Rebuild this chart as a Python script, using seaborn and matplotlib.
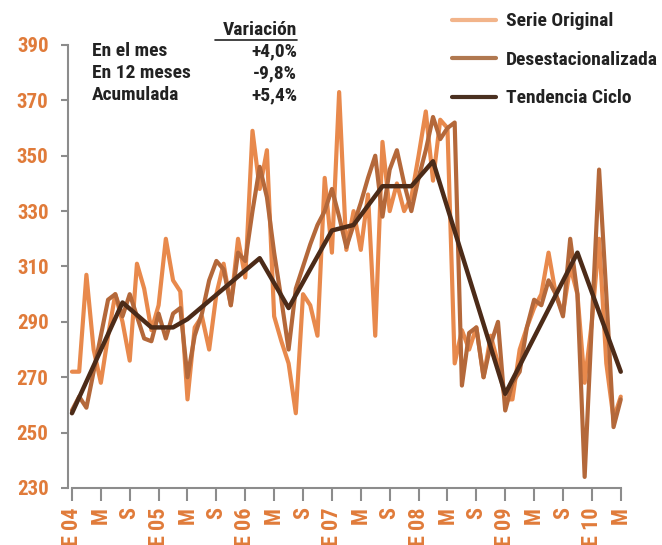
import numpy as np
import pandas as pd
import seaborn as sns
import matplotlib.pyplot as plt
from matplotlib import font_manager
from matplotlib.lines import Line2D

# meses desde enero 2004 hasta mayo 2010
meses = np.arange(77)
serie_original = [272, 272, 307, 280, 268, 285, 300, 290, 276, 311,
                  302, 287, 296, 320, 305, 301, 262, 288, 292, 280,
                  300, 311, 296, 320, 306, 359, 338, 352, 292, 283,
                  275, 257, 300, 296, 285, 342, 315, 373, 316, 330,
                  316, 336, 285, 355, 330, 340, 330, 335, 350, 366,
                  341, 363, 360, 275, 287, 280, 288, 270, 285, 275,
                  262, 262, 280, 288, 295, 300, 315, 300, 293, 310,
                  300, 268, 290, 320, 275, 255, 263]
desestacionalizada = [258, 263, 259, 272, 285, 298, 300, 292, 300, 292,
                      284, 283, 293, 284, 293, 295, 270, 285, 293, 305,
                      312, 309, 296, 315, 312, 330, 346, 335, 315, 298,
                      280, 302, 310, 318, 325, 330, 338, 328, 317, 325,
                      333, 342, 350, 328, 345, 352, 340, 330, 342, 352,
                      364, 356, 360, 362, 267, 286, 288, 270, 282, 290,
                      258, 268, 272, 288, 298, 296, 305, 300, 292, 320,
                      300, 234, 290, 345, 300, 252, 262]
tendencia_mes = [0, 7, 11, 14, 16, 26, 30, 36, 39, 43, 47, 50, 60, 70, 76]
tendencia = [257, 297, 288, 288, 291, 313, 295, 323, 325, 339, 339, 348, 264, 315, 272]

tick_pos = list(range(0, 77, 4))
tick_labels = ['E 04', 'M', 'S', 'E 05', 'M', 'S', 'E 06', 'M', 'S', 'E 07',
               'M', 'S', 'E 08', 'M', 'S', 'E 09', 'M', 'S', 'E 10', 'M']

variacion = ['En el mes', 'En 12 meses', 'Acumulada']
variacion_val = ['+4,0%', '-9,8%', '+5,4%']

c_orig = '#E8894C'
c_des = '#B4683A'
c_tend = '#4C2B18'
naranja = '#E07B3A'
gris = '#8C8C8C'
texto = '#222222'

sns.set_theme(style='white')

# fuente estrecha en negrita: se usa el archivo Bold directamente
ruta = None
for cand in ['Roboto Condensed', 'Liberation Sans Narrow', 'Barlow Semi Condensed',
             'Asap Condensed', 'Barlow Condensed']:
    for f in font_manager.fontManager.ttflist:
        base = f.fname.split('/')[-1]
        if f.name == cand and base.endswith('-Bold.ttf'):
            ruta = f.fname
            break
    if ruta:
        break


def fp(size):
    if ruta:
        return font_manager.FontProperties(fname=ruta, size=size)
    return font_manager.FontProperties(family='DejaVu Sans', weight='bold', size=size * 0.85)


df = pd.DataFrame({'mes': meses, 'orig': serie_original, 'des': desestacionalizada})
dft = pd.DataFrame({'mes': tendencia_mes, 'tend': tendencia})

fig = plt.figure(figsize=(6.62, 5.45), dpi=100)
ax = fig.add_axes([0.1027, 0.1046, 0.847, 0.823])

sns.lineplot(data=df, x='mes', y='orig', color=c_orig, linewidth=3.0, ax=ax)
sns.lineplot(data=df, x='mes', y='des', color=c_des, linewidth=3.0, ax=ax)
sns.lineplot(data=dft, x='mes', y='tend', color=c_tend, linewidth=3.2, ax=ax)

ax.set_xlim(-0.55, 77.1)
ax.set_ylim(230, 392)
ax.set_xlabel('')
ax.set_ylabel('')
ax.set_yticks(range(230, 391, 20))
ax.set_xticks(tick_pos)
ax.set_xticklabels(tick_labels, rotation=90)

for s in ['top', 'right']:
    ax.spines[s].set_visible(False)
for s in ['left', 'bottom']:
    ax.spines[s].set_color(gris)
    ax.spines[s].set_linewidth(1.5)
ax.spines['left'].set_bounds(230, 390)
ax.spines['bottom'].set_bounds(0, 76)

ax.tick_params(axis='y', direction='out', length=5, width=1.5, color=gris,
               labelcolor=naranja, pad=9, left=True)
ax.tick_params(axis='x', direction='out', length=9, width=1.5, color=gris,
               labelcolor=naranja, pad=5, bottom=True)
for lab in ax.get_yticklabels():
    lab.set_fontproperties(fp(15))
for lab in ax.get_xticklabels():
    lab.set_fontproperties(fp(16))

# leyenda
handles = [Line2D([], [], color='#F2B48A', lw=3),
           Line2D([], [], color='#B07850', lw=3),
           Line2D([], [], color='#4A3020', lw=3)]
fig.legend(handles, ['Serie Original', 'Desestacionalizada', 'Tendencia Ciclo'],
           loc='upper left', bbox_to_anchor=(434 / 662, 1 + 5 / 545),
           frameon=False, prop=fp(14), handlelength=2.3, labelspacing=1.05,
           handletextpad=0.5, labelcolor=texto)

# cuadro de variaciones
fig.text(297 / 662, 1 - 30 / 545, 'Variación', ha='right', va='center',
         fontproperties=fp(14), color=texto)
fig.add_artist(Line2D([215 / 662, 297 / 662], [1 - 40 / 545, 1 - 40 / 545],
                      color=texto, lw=1.2))
for i, (nom, val) in enumerate(zip(variacion, variacion_val)):
    y = 1 - (51 + i * 22) / 545
    fig.text(92 / 662, y, nom, ha='left', va='center', fontproperties=fp(14), color=texto)
    fig.text(297 / 662, y, val, ha='right', va='center', fontproperties=fp(14), color=texto)

fig.savefig('out.png', dpi=100)
